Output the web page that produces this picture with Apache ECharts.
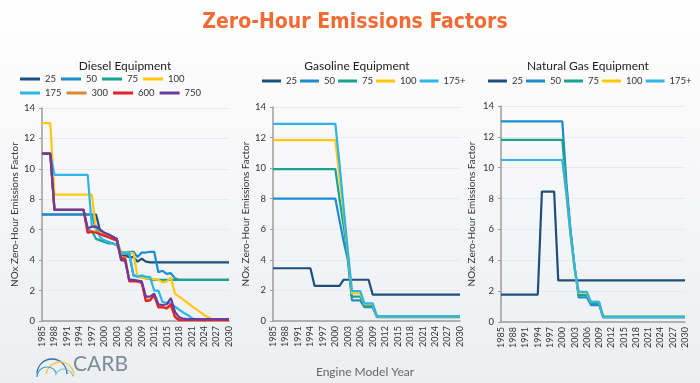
<!DOCTYPE html>
<html>
<head>
<meta charset="utf-8">
<script src="https://cdn.jsdelivr.net/npm/echarts@6/dist/echarts.min.js"></script>
<style>html,body{margin:0;padding:0;}#c{width:700px;height:383px;}</style>
</head>
<body>
<div id="c"></div>
<script>
// ---------- DATA ----------
const years = ['1985','1986','1987','1988','1989','1990','1991','1992','1993','1994',
  '1995','1996','1997','1998','1999','2000','2001','2002','2003','2004',
  '2005','2006','2007','2008','2009','2010','2011','2012','2013','2014',
  '2015','2016','2017','2018','2019','2020','2021','2022','2023','2024',
  '2025','2026','2027','2028','2029','2030'];

const dieselNames = ['25','50','75','100','175','300','600','750'];
const gasNames = ['25','50','75','100','175+'];
const ngNames = ['25','50','75','100','175+'];

// Diesel (1985..2030)
const diesel25 = [7,7,7,7,7,7,7,7,7,7,7,7,7,7,
  5.9,5.8,5.6,5.5,5.4,4.3,4.3,4.2,4.2,3.9,4.1,3.9,
  3.85,3.85,3.85,3.85,3.85,3.85,3.85,3.85,3.85,3.85,3.85,3.85,3.85,3.85,3.85,3.85,3.85,3.85,3.85,3.85];
const diesel50 = [7,7,7,7,7,7,7,7,7,7,7,7,7,
  6.0,5.7,5.6,5.5,5.4,5.3,4.5,4.5,4.55,4.55,4.2,4.5,4.5,4.55,4.55,3.2,3.3,3.1,3.15,2.8,
  2.7,2.7,2.7,2.7,2.7,2.7,2.7,2.7,2.7,2.7,2.7,2.7,2.7];
const diesel75 = [11,11,11,
  7.3,7.3,7.3,7.3,7.3,7.3,7.3,7.3,
  6.0,5.9,
  5.4,5.3,5.2,5.1,5.1,5.0,4.5,4.45,4.4,3.0,2.95,2.9,2.8,2.75,
  2.7,2.7,2.7,2.7,2.7,2.7,2.7,2.7,2.7,2.7,2.7,2.7,2.7,2.7,2.7,2.7,2.7,2.7,2.7];
const diesel100 = [13,13,13,
  8.3,8.3,8.3,8.3,8.3,8.3,8.3,8.3,8.3,8.3,
  6.0,5.8,5.7,5.5,5.4,5.3,4.5,4.5,4.5,4.45,2.9,2.85,2.8,2.8,2.75,2.7,2.55,2.6,2.85,
  1.8,1.6,1.4,1.2,1.0,0.8,0.6,0.4,0.25,
  0.1,0.1,0.1,0.1,0.1];
const diesel175 = [11,11,11,
  9.6,9.6,9.6,9.6,9.6,9.6,9.6,9.6,9.6,
  6.2,6.2,5.5,5.3,5.2,5.1,5.0,4.5,4.5,4.5,3.0,2.9,3.0,2.9,2.9,2.0,2.0,
  1.25,1.2,1.15,0.95,0.75,0.55,0.4,0.2,
  0.1,0.1,0.1,0.1,0.1,0.1,0.1,0.1,0.1];
const diesel300 = [11,11,11,
  7.3,7.3,7.3,7.3,7.3,7.3,7.3,7.3,
  5.8,5.9,5.85,5.75,5.65,5.55,5.45,5.35,4.2,4.2,2.7,2.7,2.6,2.6,1.4,1.4,1.65,1.0,1.0,0.8,1.0,0.3,0.1,
  0.08,0.08,0.08,0.08,0.08,0.08,0.08,0.08,0.08,0.08,0.08,0.08];
const diesel600 = [11,11,11,
  7.3,7.3,7.3,7.3,7.3,7.3,7.3,7.3,
  5.8,5.85,5.8,5.7,5.6,5.5,5.4,5.3,4.1,4.1,2.6,2.6,2.6,2.5,1.3,1.35,1.7,0.9,0.9,0.85,1.1,0.25,0.05,
  0.05,0.05,0.05,0.05,0.05,0.05,0.05,0.05,0.05,0.05,0.05,0.05];
const diesel750 = [11,11,11,
  7.3,7.3,7.3,7.3,7.3,7.3,7.3,7.3,
  6.1,6.2,6.2,6.0,5.8,5.7,5.55,5.4,4.0,3.95,2.7,2.7,2.65,2.6,1.6,1.6,1.8,1.1,1.05,1.1,1.5,0.6,0.25,0.15,
  0.12,0.12,0.12,0.12,0.12,0.12,0.12,0.12,0.12,0.12,0.12];

// Gasoline (1985..2030)
const gas25 = [3.45,3.45,3.45,3.45,3.45,3.45,3.45,3.45,3.45,3.45,
  2.3,2.3,2.3,2.3,2.3,2.3,2.3,
  2.7,2.7,2.7,2.7,2.7,2.7,2.7,
  1.72,1.72,1.72,1.72,1.72,1.72,1.72,1.72,1.72,1.72,1.72,1.72,1.72,1.72,1.72,1.72,1.72,1.72,1.72,1.72,1.72,1.72];
const gas50 = [8,8,8,8,8,8,8,8,8,8,8,8,8,8,8,8,
  6.6,5.2,4.0,1.35,1.35,1.35,0.9,0.9,0.9,
  0.25,0.25,0.25,0.25,0.25,0.25,0.25,0.25,0.25,0.25,0.25,0.25,0.25,0.25,0.25,0.25,0.25,0.25,0.25,0.25,0.25];
const gas75 = [9.94,9.94,9.94,9.94,9.94,9.94,9.94,9.94,9.94,9.94,9.94,9.94,9.94,9.94,9.94,9.94,
  8.0,6.2,4.3,1.6,1.6,1.6,1.0,1.0,1.0,
  0.28,0.28,0.28,0.28,0.28,0.28,0.28,0.28,0.28,0.28,0.28,0.28,0.28,0.28,0.28,0.28,0.28,0.28,0.28,0.28,0.28];
const gas100 = [11.83,11.83,11.83,11.83,11.83,11.83,11.83,11.83,11.83,11.83,11.83,11.83,11.83,11.83,11.83,11.83,
  9.4,7.0,4.5,1.8,1.8,1.8,1.1,1.1,1.1,
  0.3,0.3,0.3,0.3,0.3,0.3,0.3,0.3,0.3,0.3,0.3,0.3,0.3,0.3,0.3,0.3,0.3,0.3,0.3,0.3,0.3];
const gas175 = [12.9,12.9,12.9,12.9,12.9,12.9,12.9,12.9,12.9,12.9,12.9,12.9,12.9,12.9,12.9,12.9,
  10.3,7.4,4.6,1.95,1.95,1.95,1.15,1.15,1.15,
  0.32,0.32,0.32,0.32,0.32,0.32,0.32,0.32,0.32,0.32,0.32,0.32,0.32,0.32,0.32,0.32,0.32,0.32,0.32,0.32,0.32];

// Natural gas (1985..2030)
const ng25 = [1.78,1.78,1.78,1.78,1.78,1.78,1.78,1.78,1.78,1.78,
  8.45,8.45,8.45,8.45,
  2.7,2.7,2.7,2.7,2.7,2.7,2.7,2.7,2.7,2.7,2.7,2.7,2.7,2.7,2.7,2.7,
  2.7,2.7,2.7,2.7,2.7,2.7,2.7,2.7,2.7,2.7,2.7,2.7,2.7,2.7,2.7,2.7];
const ng50 = [13,13,13,13,13,13,13,13,13,13,13,13,13,13,13,13,
  9.0,6.0,3.6,1.6,1.6,1.6,1.1,1.1,1.1,
  0.3,0.3,0.3,0.3,0.3,0.3,0.3,0.3,0.3,0.3,0.3,0.3,0.3,0.3,0.3,0.3,0.3,0.3,0.3,0.3,0.3];
const ng75 = [11.8,11.8,11.8,11.8,11.8,11.8,11.8,11.8,11.8,11.8,11.8,11.8,11.8,11.8,11.8,11.8,
  8.6,5.8,3.5,1.75,1.75,1.75,1.2,1.2,1.2,
  0.33,0.33,0.33,0.33,0.33,0.33,0.33,0.33,0.33,0.33,0.33,0.33,0.33,0.33,0.33,0.33,0.33,0.33,0.33,0.33,0.33];
const ng100 = [10.5,10.5,10.5,10.5,10.5,10.5,10.5,10.5,10.5,10.5,10.5,10.5,10.5,10.5,10.5,10.5,
  8.2,5.6,3.4,1.9,1.9,1.9,1.3,1.3,1.3,
  0.35,0.35,0.35,0.35,0.35,0.35,0.35,0.35,0.35,0.35,0.35,0.35,0.35,0.35,0.35,0.35,0.35,0.35,0.35,0.35,0.35];
const ng175 = [10.5,10.5,10.5,10.5,10.5,10.5,10.5,10.5,10.5,10.5,10.5,10.5,10.5,10.5,10.5,10.5,
  8.3,5.7,3.5,1.95,1.95,1.95,1.3,1.3,1.3,
  0.35,0.35,0.35,0.35,0.35,0.35,0.35,0.35,0.35,0.35,0.35,0.35,0.35,0.35,0.35,0.35,0.35,0.35,0.35,0.35,0.35];

const dieselData = [diesel25, diesel50, diesel75, diesel100, diesel175, diesel300, diesel600, diesel750];
const gasData = [gas25, gas50, gas75, gas100, gas175];
const ngData = [ng25, ng50, ng75, ng100, ng175];

// ---------- STYLE ----------
const colors = {
  '25': '#1d4f7e', '50': '#1b8dd0', '75': '#17a38f', '100': '#fcc813',
  '175': '#2cb5e8', '175+': '#2cb5e8', '300': '#d98a2c', '600': '#e5212b', '750': '#6a3c9e'
};
const FONT = 'Lato';
const grids = [
  {left: 42, top: 108, width: 187, height: 213},
  {left: 273, top: 107, width: 187, height: 214},
  {left: 501, top: 106, width: 184, height: 216}
];
const yNameGaps = [22, 21, 24];

const chart = echarts.init(document.getElementById('c'), null, {renderer: 'canvas'});

function makeSeries(names, data, idx) {
  return names.map((n, i) => ({
    name: n, type: 'line', xAxisIndex: idx, yAxisIndex: idx,
    data: data[i], symbol: 'none', smooth: false,
    lineStyle: {color: colors[n], width: 2.2},
    itemStyle: {color: colors[n]},
    emphasis: {disabled: true}
  }));
}

const legendBase = {
  orient: 'horizontal', padding: 0, icon: 'rect', itemWidth: 19, itemHeight: 3,
  itemGap: 3, textStyle: {fontFamily: FONT, fontSize: 9.5, color: '#333'}, selectedMode: false
};

const option = {
  animation: false,
  backgroundColor: {
    type: 'linear', x: 0, y: 0, x2: 0, y2: 1,
    colorStops: [{offset: 0, color: '#ffffff'}, {offset: 0.2, color: '#fbfbfc'}, {offset: 1, color: '#eceef1'}]
  },
  title: [
    {text: 'Zero-Hour Emissions Factors', left: 350, textAlign: 'center', top: 7,
      textStyle: {color: '#f26b35', fontSize: 21, fontWeight: 'bold', fontFamily: 'DejaVu Sans Condensed'}},
    {text: 'Diesel Equipment', left: 120, textAlign: 'center', top: 55,
      textStyle: {color: '#222', fontSize: 12, fontWeight: 'normal', fontFamily: FONT}},
    {text: 'Gasoline Equipment', left: 352, textAlign: 'center', top: 55,
      textStyle: {color: '#222', fontSize: 12, fontWeight: 'normal', fontFamily: FONT}},
    {text: 'Natural Gas Equipment', left: 583, textAlign: 'center', top: 55,
      textStyle: {color: '#222', fontSize: 12, fontWeight: 'normal', fontFamily: FONT}},
    {text: 'Engine Model Year', left: 360, textAlign: 'center', top: 361,
      textStyle: {color: '#666', fontSize: 12, fontWeight: 'normal', fontFamily: FONT}}
  ],
  legend: [
    Object.assign({}, legendBase, {data: dieselNames.slice(0, 4), left: 20, top: 74, itemWidth: 20, itemGap: 5,
      textStyle: {fontFamily: FONT, fontSize: 9.5, color: '#333', width: 28}}),
    Object.assign({}, legendBase, {data: dieselNames.slice(4), left: 20, top: 88, itemWidth: 20, itemGap: 5,
      textStyle: {fontFamily: FONT, fontSize: 9.5, color: '#333', width: 28}}),
    Object.assign({}, legendBase, {data: gasNames, left: 262, top: 76}),
    Object.assign({}, legendBase, {data: ngNames, left: 488, top: 76})
  ],
  grid: grids,
  xAxis: grids.map((g, i) => ({
    type: 'category', gridIndex: i, data: years, boundaryGap: false,
    axisLine: {lineStyle: {color: '#9c9c9c', width: 1.5}},
    axisTick: {show: false},
    axisLabel: {interval: 2, rotate: 90, fontSize: 9, color: '#333', margin: 5, fontFamily: FONT},
    splitLine: {show: false}
  })),
  yAxis: grids.map((g, i) => ({
    type: 'value', gridIndex: i, min: 0, max: 14, interval: 2,
    name: 'NOx Zero-Hour Emissions Factor', nameLocation: 'middle', nameGap: yNameGaps[i],
    nameTextStyle: {fontSize: 10, color: '#333', fontFamily: FONT},
    axisLine: {show: true, lineStyle: {color: '#9c9c9c', width: 1.5}},
    axisTick: {show: true, length: 3, lineStyle: {color: '#9c9c9c'}},
    axisLabel: {fontSize: 9.5, color: '#333', margin: 7, fontFamily: FONT},
    splitLine: {show: true, lineStyle: {color: '#e8eaed', width: 1}}
  })),
  graphic: [
    {type: 'arc', shape: {cx: 52, cy: 374, r: 15, startAngle: Math.PI, endAngle: 2 * Math.PI},
      style: {stroke: '#2b6fae', lineWidth: 1.3, fill: null}, silent: true},
    {type: 'arc', shape: {cx: 60, cy: 376, r: 14, startAngle: Math.PI * 1.05, endAngle: 2 * Math.PI},
      style: {stroke: '#f3c443', lineWidth: 1.3, fill: null}, silent: true},
    {type: 'arc', shape: {cx: 47, cy: 377, r: 10, startAngle: Math.PI, endAngle: 1.9 * Math.PI},
      style: {stroke: '#3aa8c8', lineWidth: 1.2, fill: null}, silent: true},
    {type: 'arc', shape: {cx: 64, cy: 378, r: 9, startAngle: Math.PI * 1.1, endAngle: 1.95 * Math.PI},
      style: {stroke: '#7cc3d6', lineWidth: 1.1, fill: null}, silent: true},
    {type: 'text', left: 73, top: 354, silent: true,
      style: {text: 'CARB', fontSize: 21, fontFamily: FONT, fill: '#7d8c99', fontWeight: 'normal'}}
  ],
  series: [].concat(
    makeSeries(dieselNames, dieselData, 0),
    makeSeries(gasNames, gasData, 1),
    makeSeries(ngNames, ngData, 2)
  )
};
chart.setOption(option);
</script>
</body>
</html>
